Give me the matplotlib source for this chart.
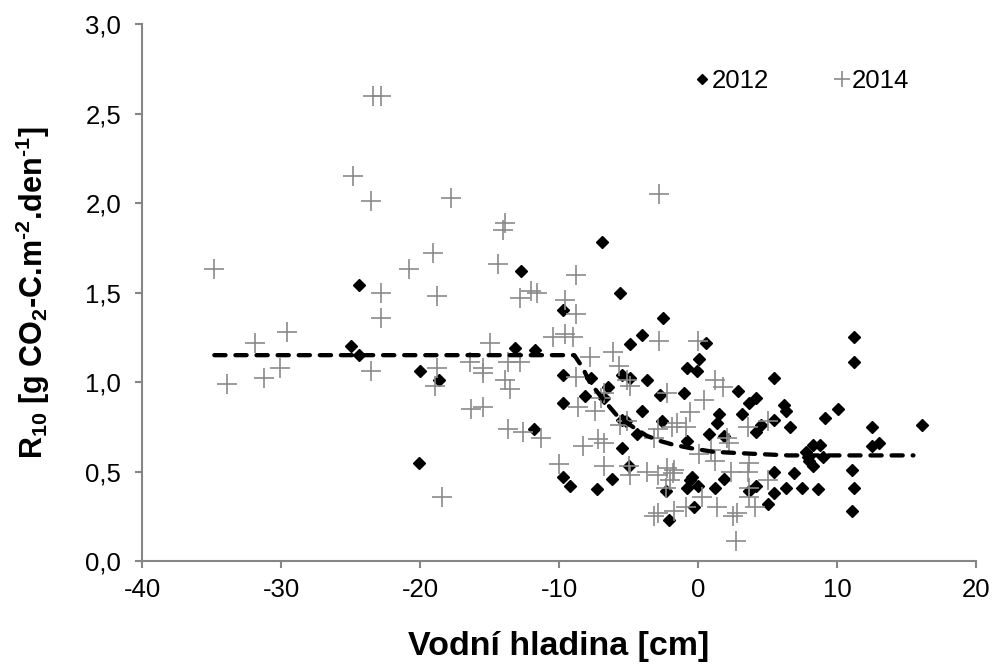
import matplotlib
matplotlib.use("Agg")
import matplotlib.pyplot as plt

# --- data: water table [cm] vs. R10 ---
x_2012 = [-25.0, -24.4, -24.4, -20.0, -18.6, -20.1, -12.7, -6.9, -5.6, -9.7,
          -13.2, -11.7, -11.8, -9.7, -7.7, -8.1, -9.7, -6.8, -9.7, -9.2,
          -7.3, -2.5, -4.0, -4.9, -5.5, -4.9, -3.7, -6.5, -2.7, -4.0,
          -5.5, -5.2, -2.6, -4.4, -5.5, -5.0, -6.2, -2.3, -2.1, 0.6,
          0.1, -0.8, -0.1, 5.5, -1.0, 2.9, 3.7, 4.2, 6.2, 6.3,
          1.5, 3.2, 5.5, 6.6, 1.4, 4.5, 0.8, 1.9, 4.2, -0.8,
          7.8, 7.9, 5.5, 6.9, -0.4, -0.8, 0.0, 1.2, 1.9, 4.2,
          3.7, 5.5, 6.3, 7.5, 5.0, -0.3, 11.2, 11.2, 10.1, 9.1,
          12.5, 16.1, 8.3, 8.8, 12.5, 13.0, 8.0, 8.3, 9.0, 11.1,
          8.6, 11.2, 11.1, -0.6]
y_2012 = [1.20, 1.15, 1.54, 1.06, 1.01, 0.55, 1.62, 1.78, 1.50, 1.40,
          1.19, 1.18, 0.74, 1.04, 1.02, 0.92, 0.88, 0.91, 0.47, 0.42,
          0.40, 1.36, 1.26, 1.21, 1.04, 1.02, 1.01, 0.97, 0.93, 0.84,
          0.79, 0.78, 0.78, 0.71, 0.63, 0.53, 0.46, 0.39, 0.23, 1.22,
          1.13, 1.08, 1.06, 1.02, 0.94, 0.95, 0.88, 0.91, 0.87, 0.84,
          0.82, 0.82, 0.79, 0.75, 0.77, 0.76, 0.71, 0.70, 0.72, 0.67,
          0.61, 0.58, 0.50, 0.49, 0.47, 0.41, 0.42, 0.41, 0.46, 0.42,
          0.39, 0.38, 0.41, 0.41, 0.32, 0.30, 1.25, 1.11, 0.85, 0.80,
          0.75, 0.76, 0.65, 0.65, 0.64, 0.66, 0.56, 0.53, 0.58, 0.51,
          0.40, 0.41, 0.28, 0.45]

x_2014 = [-34.8, -33.9, -31.9, -31.2, -30.1, -29.6, -23.5, -22.8, -23.4, -22.8,
          -24.8, -23.5, -20.8, -22.8, -17.8, -13.9, -14.0, -19.1, -14.4, -2.8,
          -8.8, -18.8, -12.8, -12.0, -11.6, -9.6, -8.8, -15.0, -10.4, -9.6,
          -9.0, -18.8, -18.9, -16.4, -15.5, -15.5, -13.7, -12.8, -13.9, -13.5,
          -16.3, -15.5, -13.7, -12.6, -11.3, -18.4, -7.8, -8.8, -8.6, -7.4,
          -8.3, -7.2, -6.8, -10.0, -6.8, -6.1, -5.7, -2.8, -6.8, -7.0,
          -4.9, -5.1, -2.2, -5.1, -5.6, -3.2, -2.9, -1.9, -5.0, -4.9,
          -3.7, -2.9, -2.2, -2.0, -1.7, -3.2, -2.9, 0.0, 1.2, 1.8,
          0.4, -0.6, -1.5, -0.9, 2.1, 2.2, 3.6, 5.0, 0.1, 0.9,
          1.2, -1.8, 2.4, 3.7, 3.6, 5.0, -1.7, -0.9, 0.3, 1.4,
          2.5, 2.8, 3.7, 4.1, 2.7, 3.7, -2.3]
y_2014 = [1.63, 0.99, 1.22, 1.02, 1.08, 1.28, 1.06, 1.36, 2.60, 2.60,
          2.15, 2.01, 1.63, 1.50, 2.03, 1.89, 1.85, 1.72, 1.66, 2.05,
          1.60, 1.48, 1.47, 1.51, 1.50, 1.46, 1.38, 1.22, 1.25, 1.27,
          1.25, 1.08, 0.98, 1.11, 1.08, 1.05, 1.11, 1.11, 1.01, 0.96,
          0.85, 0.86, 0.74, 0.72, 0.69, 0.36, 1.14, 1.03, 0.86, 0.84,
          0.64, 0.68, 0.66, 0.54, 0.53, 1.17, 1.09, 1.23, 0.94, 0.91,
          0.98, 1.01, 0.94, 0.78, 0.76, 0.69, 0.74, 0.75, 0.53, 0.48,
          0.50, 0.48, 0.52, 0.45, 0.51, 0.25, 0.27, 1.23, 1.01, 0.97,
          0.90, 0.83, 0.77, 0.75, 0.69, 0.66, 0.75, 0.78, 0.60, 0.62,
          0.56, 0.49, 0.50, 0.55, 0.50, 0.45, 0.28, 0.30, 0.36, 0.30,
          0.25, 0.27, 0.36, 0.30, 0.11, 0.41, 0.41]

# piecewise model curve (constant, then decay)
fit_x = [-34.8, -8.9, -8.3, -7.8, -6.8, -5.8, -4.7, -3.7, -2.7, -1.8, -0.5, 1.1, 3.7, 6.5, 15.5]
fit_y = [1.15, 1.15, 1.08, 1.00, 0.90, 0.81, 0.75, 0.70, 0.67, 0.65, 0.63, 0.61, 0.60, 0.59, 0.59]

x_ticks = [-40, -30, -20, -10, 0, 10, 20]
y_ticks = [0.0, 0.5, 1.0, 1.5, 2.0, 2.5, 3.0]
labels = ["2012", "2014"]

plt.rcParams["font.family"] = ["Liberation Sans", "DejaVu Sans"]
plt.rcParams["mathtext.fontset"] = "custom"
plt.rcParams["mathtext.rm"] = "Liberation Sans"
plt.rcParams["mathtext.bf"] = "Liberation Sans:bold"

fig = plt.figure(figsize=(9.94, 6.67), dpi=100)
ax = fig.add_axes([0.1429, 0.1589, 0.8390, 0.8051])

spine_col = "#868686"
ax.plot(x_2012, y_2012, linestyle="none", marker="D", markersize=6.2,
        color="black", label=labels[0], zorder=3)
ax.plot(x_2014, y_2014, linestyle="none", marker="+", markersize=14.5,
        markeredgewidth=1.2, color="#8a8a8a", label=labels[1], zorder=4)
ax.plot(fit_x, fit_y, color="black", linewidth=3.1, dashes=(2.6, 2.3),
        dash_capstyle="round", zorder=5)

ax.set_xlim(-40, 20)
ax.set_ylim(0, 3.0)
ax.set_xticks(x_ticks)
ax.set_yticks(y_ticks)
ax.set_xticklabels([str(v) for v in x_ticks])
ax.set_yticklabels([f"{v:.1f}".replace(".", ",") for v in y_ticks])

for side in ("top", "right"):
    ax.spines[side].set_visible(False)
for side in ("left", "bottom"):
    ax.spines[side].set_color(spine_col)
    ax.spines[side].set_linewidth(1.5)
ax.tick_params(axis="both", direction="out", length=5, width=1.5,
               color=spine_col, labelsize=18.5, labelcolor="black")
ax.tick_params(axis="y", pad=10)
ax.tick_params(axis="x", pad=7)

ax.set_xlabel("Vodní hladina [cm]", fontsize=24.5, fontweight="bold", labelpad=21)
ax.set_ylabel("R$_{\\mathbf{10}}$ [g CO$_{\\mathbf{2}}$-C.m$^{\\mathbf{\u20102}}$.den$^{\\mathbf{\u20101}}$]",
              fontsize=22, fontweight="bold", labelpad=24)

leg = ax.legend(loc="upper left", bbox_to_anchor=(0.652, 0.935), ncol=2,
                frameon=False, fontsize=18.5, handlelength=0.5,
                handletextpad=0.12, columnspacing=2.6, borderaxespad=0)
leg.legend_handles[0].set_markersize(5.5)
leg.legend_handles[1].set_markersize(12)

fig.savefig("out.png", dpi=100)
